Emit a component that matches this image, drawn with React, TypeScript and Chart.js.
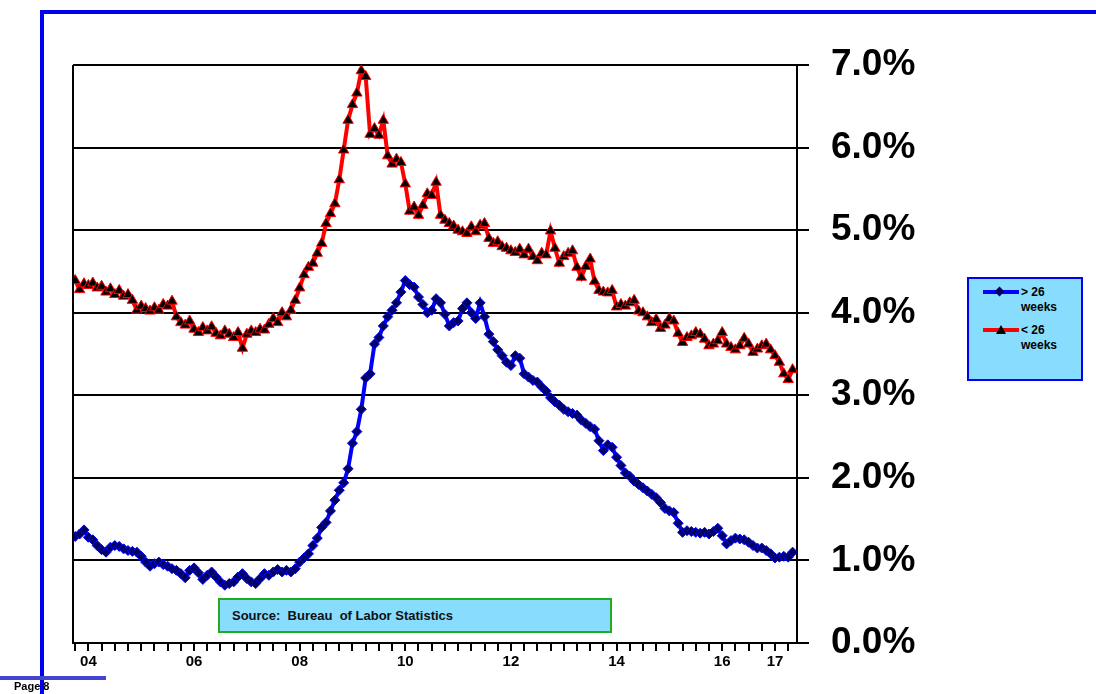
import React, { useEffect, useRef } from "react";
import { Chart, registerables } from "chart.js";
Chart.register(...registerables);

const over26: number[] = [
  1.29,1.32,1.37,1.28,1.25,1.18,1.13,1.10,1.16,1.18,1.17,1.14,
  1.12,1.11,1.10,1.05,0.98,0.93,0.96,0.98,0.95,0.93,0.90,0.88,
  0.84,0.79,0.88,0.91,0.85,0.77,0.82,0.86,0.80,0.74,0.70,0.72,
  0.74,0.80,0.84,0.78,0.74,0.72,0.78,0.84,0.82,0.86,0.89,0.86,
  0.88,0.86,0.90,0.98,1.03,1.08,1.18,1.27,1.40,1.46,1.60,1.73,
  1.85,1.94,2.11,2.42,2.56,2.83,3.21,3.26,3.62,3.70,3.84,3.95,
  4.03,4.12,4.25,4.39,4.34,4.31,4.19,4.10,4.00,4.03,4.17,4.12,
  3.98,3.84,3.88,3.90,4.05,4.12,4.00,3.93,4.12,3.95,3.74,3.65,
  3.55,3.48,3.40,3.36,3.48,3.45,3.26,3.22,3.18,3.16,3.10,3.05,
  2.97,2.92,2.88,2.83,2.80,2.78,2.76,2.70,2.66,2.62,2.59,2.45,
  2.33,2.40,2.37,2.25,2.15,2.06,2.02,1.96,1.92,1.88,1.84,1.80,
  1.76,1.70,1.63,1.60,1.58,1.45,1.34,1.36,1.35,1.34,1.33,1.34,
  1.32,1.35,1.39,1.30,1.20,1.24,1.27,1.26,1.25,1.22,1.18,1.15,
  1.15,1.12,1.08,1.03,1.04,1.05,1.04,1.10,
];

const under26: number[] = [
  4.39,4.28,4.35,4.33,4.36,4.30,4.32,4.25,4.29,4.22,4.27,4.20,
  4.22,4.15,4.03,4.08,4.05,4.02,4.06,4.03,4.10,4.08,4.14,3.95,
  3.88,3.85,3.90,3.80,3.76,3.82,3.78,3.83,3.75,3.72,3.78,3.74,
  3.70,3.76,3.57,3.74,3.78,3.76,3.80,3.79,3.86,3.93,3.88,4.00,
  3.95,4.03,4.15,4.30,4.46,4.55,4.60,4.72,4.84,5.08,5.20,5.32,
  5.61,5.97,6.33,6.52,6.66,6.93,6.86,6.16,6.23,6.15,6.33,5.90,
  5.80,5.86,5.82,5.56,5.23,5.28,5.18,5.30,5.44,5.42,5.58,5.18,
  5.12,5.08,5.05,5.00,4.98,4.96,5.04,4.98,5.06,5.08,4.90,4.84,
  4.86,4.80,4.78,4.75,4.73,4.77,4.70,4.77,4.68,4.63,4.72,4.70,
  4.99,4.78,4.60,4.68,4.72,4.75,4.55,4.43,4.56,4.65,4.38,4.27,
  4.25,4.24,4.27,4.07,4.10,4.08,4.12,4.15,4.02,4.00,3.95,3.88,
  3.92,3.81,3.85,3.93,3.90,3.75,3.64,3.70,3.72,3.76,3.74,3.68,
  3.60,3.62,3.66,3.76,3.62,3.58,3.55,3.60,3.69,3.62,3.52,3.56,
  3.60,3.62,3.55,3.48,3.40,3.26,3.19,3.31,
];

const yearLabelMonths: number[] = [3, 27, 51, 75, 99, 123, 147, 159];
const yearLabels: string[] = ["04", "06", "08", "10", "12", "14", "16", "17"];

const FONT = "'Liberation Sans', Arial, sans-serif";

export default function App() {
  const ref = useRef<HTMLCanvasElement>(null);
  useEffect(() => {
    document.body.style.margin = "0";
    const pts = (arr: number[]) => arr.map((v, i) => ({ x: i, y: v }));
    const chart = new Chart(ref.current!, {
      type: "line",
      data: {
        datasets: [
          {
            label: "> 26 weeks",
            data: pts(over26),
            borderColor: "#0000ff",
            borderWidth: 4,
            pointStyle: "rectRot",
            pointRadius: 5,
            pointBackgroundColor: "#000066",
            pointBorderColor: "#0000ff",
            pointBorderWidth: 1,
          },
          {
            label: "< 26 weeks",
            data: pts(under26),
            borderColor: "#ff0000",
            borderWidth: 4,
            pointStyle: "triangle",
            pointRadius: 6,
            pointBackgroundColor: "#000000",
            pointBorderColor: "#ff0000",
            pointBorderWidth: 1,
          },
        ],
      },
      options: {
        animation: false,
        responsive: false,
        events: [],
        layout: { padding: { left: 73, top: 65, right: 59, bottom: 11 } },
        plugins: { legend: { display: false }, tooltip: { enabled: false } },
        scales: {
          x: {
            type: "linear",
            min: -0.5,
            max: 164,
            afterFit: (s: any) => { s.height = 40; },
            afterBuildTicks: (s: any) => {
              const t = [];
              for (let m = 0; m <= 162; m += 3) t.push({ value: m });
              s.ticks = t;
            },
            border: { color: "#000", width: 2 },
            grid: { drawOnChartArea: false, color: "#000", lineWidth: 2, tickLength: 8 },
            ticks: {
              autoSkip: false,
              maxRotation: 0,
              padding: 2,
              color: "#000",
              font: { family: FONT, size: 15, weight: "bold" },
              callback: (v: any) => {
                const k = yearLabelMonths.indexOf(Number(v));
                return k >= 0 ? yearLabels[k] : "";
              },
            },
          },
          y: {
            position: "right",
            min: 0,
            max: 7,
            afterFit: (s: any) => { s.width = 240; },
            border: { color: "#000", width: 2 },
            grid: { color: "#000", lineWidth: 2, tickLength: 12 },
            ticks: {
              stepSize: 1,
              padding: 22,
              color: "#000",
              font: { family: FONT, size: 37, weight: "bold" },
              callback: (v: any) => Number(v).toFixed(1) + "%",
            },
          },
        },
      },
      plugins: [
        {
          id: "leftBorder",
          afterDatasetsDraw(c: any) {
            const { ctx, chartArea: a } = c;
            ctx.save();
            ctx.strokeStyle = "#000";
            ctx.lineWidth = 2;
            ctx.beginPath();
            ctx.moveTo(a.left, a.top);
            ctx.lineTo(a.left, a.bottom);
            ctx.stroke();
            ctx.restore();
          },
        },
      ],
    } as any);
    return () => chart.destroy();
  }, []);

  const legendRow = (color: string, label: string, tri: boolean) => (
    <div style={{ display: "flex", alignItems: "flex-start", marginBottom: 8 }}>
      <div style={{ position: "relative", width: 40, height: 14 }}>
        <div style={{ position: "absolute", left: 2, top: 5, width: 36, height: 4, background: color }} />
        <div style={{ position: "absolute", left: 15, top: 2, width: 0, height: 0,
          ...(tri
            ? { borderLeft: "5px solid transparent", borderRight: "5px solid transparent", borderBottom: "9px solid #000" }
            : { width: 7, height: 7, background: "#000066", transform: "rotate(45deg)", top: 3 }) }} />
      </div>
      <div style={{ font: `bold 12px ${FONT}`, lineHeight: "15px", color: "#000" }}>
        {label.slice(0, 4)}<br />weeks
      </div>
    </div>
  );

  return (
    <div style={{ position: "relative", width: 1096, height: 694, background: "#fff", overflow: "hidden" }}>
      <canvas ref={ref} width={1096} height={694} style={{ position: "absolute", left: 0, top: 0 }} />
      <div style={{ position: "absolute", left: 40, top: 10, width: 1056, height: 4, background: "#0000ee" }} />
      <div style={{ position: "absolute", left: 40, top: 10, width: 4, height: 684, background: "#0000ee" }} />
      <div style={{ position: "absolute", left: 0, top: 676, width: 106, height: 4, background: "#4444cc" }} />
      <div style={{ position: "absolute", left: 14, top: 680, font: `bold 11px ${FONT}`, color: "#000" }}>Page 8</div>
      <div style={{ position: "absolute", left: 218, top: 598, width: 378, height: 31, background: "#88ddff",
        border: "2px solid #22aa22", font: `bold 13px ${FONT}`, color: "#111", lineHeight: "31px", paddingLeft: 12, boxSizing: "content-box" }}>
        Source:&nbsp; Bureau&nbsp; of Labor Statistics
      </div>
      <div style={{ position: "absolute", left: 967, top: 277, width: 116, height: 104, background: "#88ddff",
        border: "2px solid #0000ee", padding: "6px 0 0 12px", boxSizing: "border-box" }}>
        {legendRow("#0000ff", "> 26 weeks", false)}
        {legendRow("#ff0000", "< 26 weeks", true)}
      </div>
    </div>
  );
}
